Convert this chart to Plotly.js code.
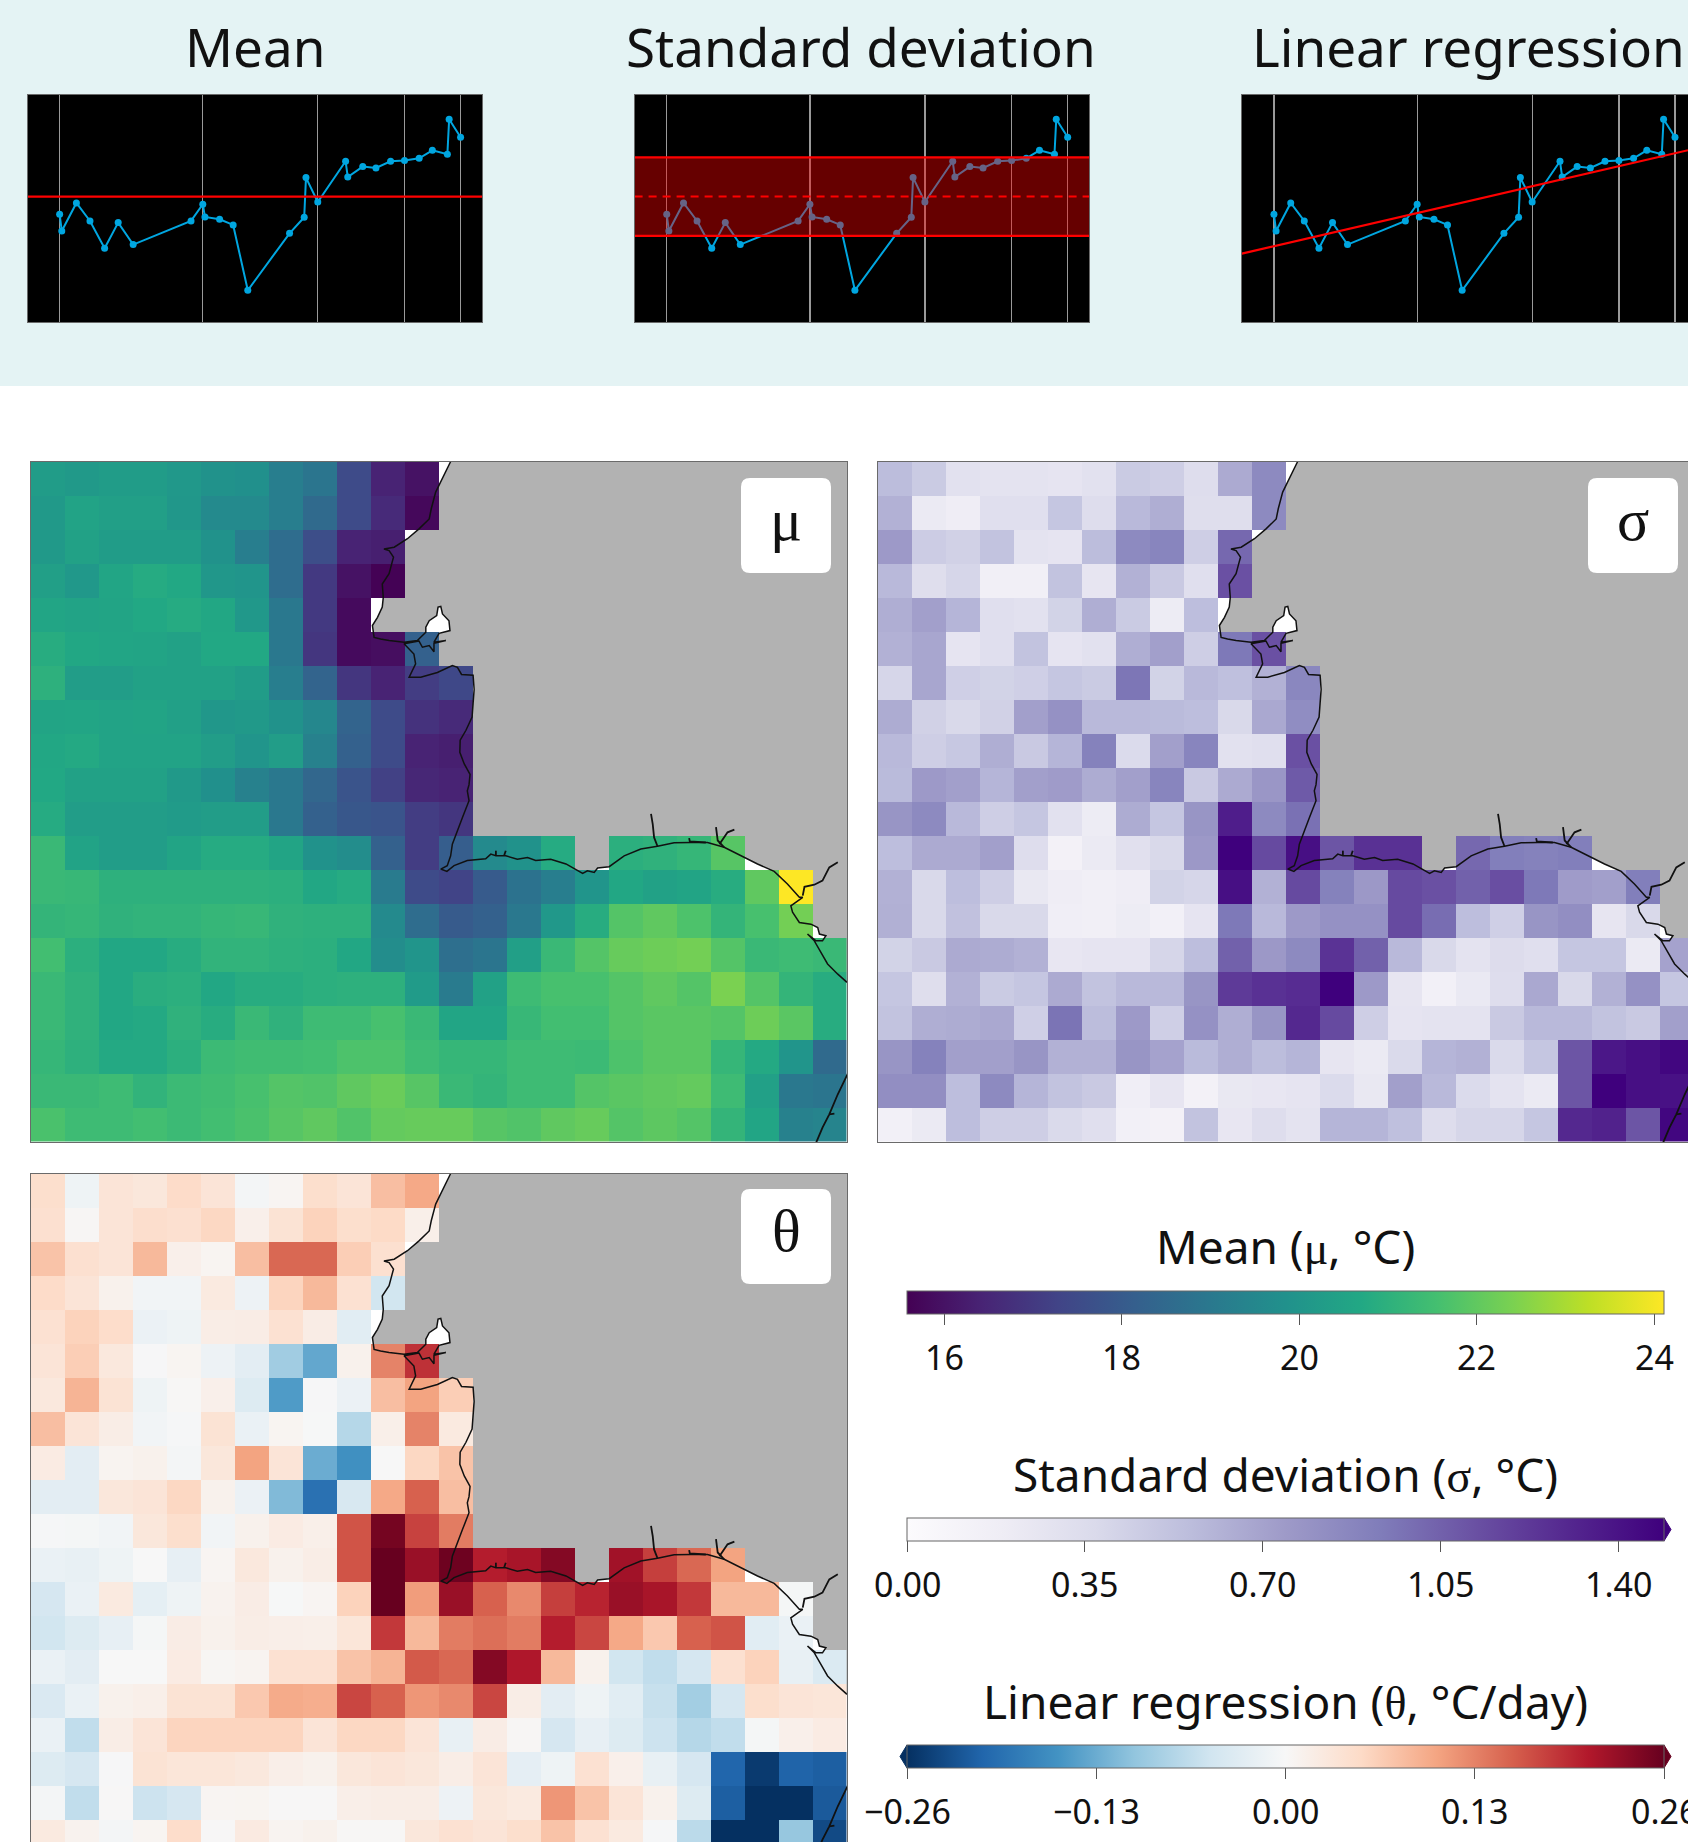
<!DOCTYPE html>
<html>
<head>
<meta charset="utf-8">
<script src="https://cdn.plot.ly/plotly-3.0.1.min.js"></script>
<style>html,body{margin:0;padding:0;background:#fff;overflow:hidden}</style>
</head>
<body>
<div id="chart" style="width:1688px;height:1842px"></div>
<script>
const n = null;
/* time series shown in the three top panels */
const seriesX = [0,6,47,85,126,164,206,368,401,407,448,486,527,644,685,690,723,801,807,849,886,927,966,1007,1044,1086,1091,1123];
const seriesY = [324,274,358,304,222,299,233,304,354,316,309,292,96,267,315,434,361,483,436,467,463,483,485,492,516,504,609,555];
const gridX = [0,401,723,966,1123];
const meanLevel = 377;
const stdLow = 259;
const stdHigh = 495;
const regressionEnds = [206,522];

/* gridded fields (rows north to south, columns west to east) */
const muValues = [
[20.25,20.15,20.25,20.25,20.1,19.9,19.8,19.2,18.9,17.5,16.4,16.0],
[20.15,20.5,20.35,20.35,20.05,19.6,19.6,19.2,18.5,17.5,16.6,15.75],
[20.15,20.45,20.25,20.25,20.25,19.9,19.2,18.6,17.6,16.4,16.3],
[20.35,20.1,20.6,20.8,20.7,20.05,20.0,18.6,17.0,16.0,15.6],
[20.6,20.5,20.55,20.7,20.8,20.65,20.1,19.0,17.0,15.8],
[20.85,20.65,20.6,20.55,20.45,20.7,20.7,19.0,16.9,15.8,15.9,18.2],
[21.0,20.3,20.3,20.45,20.45,20.45,20.25,19.2,18.3,16.9,16.4,17.1,17.4],
[20.55,20.6,20.5,20.55,20.4,20.05,20.15,19.9,19.5,18.3,17.5,16.8,16.6],
[20.65,20.75,20.5,20.5,20.5,20.3,20.0,20.3,19.3,18.2,17.5,16.4,16.3],
[20.7,20.45,20.45,20.45,20.15,19.8,19.3,19.0,18.4,17.8,17.2,16.5,16.4],
[20.8,20.3,20.3,20.3,20.2,20.3,20.3,19.0,18.2,17.9,17.8,17.1,16.9],
[21.3,20.5,20.3,20.3,20.55,20.8,20.8,20.55,19.9,19.7,18.2,17.1,18.1,19.6,19.9,20.8,n,20.95,21.05,21.2,21.85],
[21.3,21.25,21.0,21.0,21.0,21.0,21.0,20.95,20.65,20.8,19.1,17.5,17.3,18.0,18.8,19.2,20.0,20.65,20.45,20.55,20.85,22.0,24.11],
[21.15,21.2,21.05,21.1,21.1,21.2,21.25,21.05,21.0,21.0,19.6,18.6,18.0,18.2,19.0,20.1,20.85,21.8,22.0,21.7,21.15,21.6,22.3],
[21.5,20.95,20.65,20.65,20.85,21.1,21.1,21.0,20.95,20.65,19.7,20.0,18.7,18.9,20.35,21.3,21.8,22.1,22.2,22.3,21.8,21.3,21.4,21.3],
[21.3,21.05,20.65,20.9,20.95,20.65,20.85,20.85,20.95,21.0,21.0,20.2,19.1,20.45,21.4,21.6,21.6,21.8,22.0,21.8,22.4,21.8,21.15,20.85],
[21.3,21.05,20.65,20.75,21.05,20.85,21.3,21.05,21.4,21.4,21.6,21.3,20.6,20.6,21.25,21.5,21.5,21.8,21.9,21.9,21.8,22.2,21.9,20.85],
[21.2,21.0,20.75,20.75,20.95,21.35,21.45,21.45,21.5,21.7,21.7,21.4,21.2,21.2,21.4,21.4,21.35,21.7,21.9,21.9,21.2,20.75,20.0,18.5],
[21.3,21.3,21.4,21.1,21.35,21.45,21.6,21.8,21.75,22.0,22.15,21.85,21.3,21.15,21.4,21.4,21.8,21.9,22.0,22.05,21.4,20.4,19.0,18.9],
[21.65,21.4,21.4,21.5,21.35,21.5,21.65,21.85,22.0,21.75,22.05,22.1,22.1,21.85,21.75,22.0,22.1,21.8,21.95,21.8,21.15,20.6,19.3,19.4]
];
const sigmaValues = [
[.56,.47,.30,.28,.28,.27,.30,.47,.45,.34,.66,.85],
[.62,.22,.18,.32,.32,.50,.34,.58,.64,.33,.33,.85],
[.75,.46,.43,.52,.28,.27,.56,.85,.88,.45,1.02],
[.58,.33,.40,.16,.16,.52,.26,.62,.48,.32,1.12],
[.64,.72,.60,.32,.30,.42,.64,.47,.20,.55],
[.62,.68,.27,.32,.52,.27,.30,.64,.72,.45,.95,1.12],
[.40,.68,.44,.42,.44,.50,.47,.96,.42,.58,.54,.62,.87],
[.65,.43,.38,.43,.72,.80,.58,.58,.57,.55,.38,.67,.83],
[.58,.45,.49,.64,.48,.60,.90,.36,.72,.88,.30,.32,1.12],
[.57,.75,.72,.60,.72,.74,.65,.72,.88,.48,.66,.77,1.08],
[.78,.85,.58,.45,.50,.30,.20,.65,.50,.78,1.35,.85,.98],
[.55,.66,.66,.72,.34,.13,.22,.31,.38,.76,1.49,1.15,1.42,1.10,1.26,1.26,n,1.02,.92,.90,.92],
[.62,.38,.55,.45,.24,.18,.16,.19,.42,.40,1.42,.62,1.15,.90,.76,1.15,1.12,1.05,1.13,.95,.74,.72,.92],
[.63,.38,.53,.38,.38,.17,.16,.20,.14,.27,.95,.58,.75,.80,.80,1.15,1.00,.55,.44,.78,.82,.26,.38],
[.42,.48,.66,.65,.62,.25,.27,.27,.40,.55,1.05,.76,.85,1.25,1.05,.58,.38,.28,.35,.32,.50,.50,.22,.70],
[.50,.33,.62,.47,.50,.66,.52,.58,.58,.78,1.22,1.26,1.28,1.49,.75,.26,.15,.23,.34,.67,.38,.62,.80,.50],
[.52,.64,.65,.67,.44,.97,.56,.75,.44,.80,.64,.78,1.30,1.15,.45,.27,.28,.28,.48,.58,.58,.52,.48,.72],
[.78,.90,.72,.72,.78,.62,.62,.78,.70,.57,.64,.56,.60,.26,.22,.37,.60,.62,.37,.50,1.10,1.38,1.42,1.46],
[.82,.82,.55,.85,.60,.52,.48,.17,.26,.13,.24,.25,.27,.36,.24,.72,.58,.36,.28,.22,1.10,1.49,1.42,1.41],
[.14,.22,.55,.45,.45,.37,.32,.15,.13,.52,.25,.34,.28,.60,.60,.54,.34,.40,.40,.50,1.30,1.33,1.10,1.46]
];
const thetaValues = [
[.045,-.012,.035,.030,.050,.035,-.006,.005,.045,.035,.08,.10],
[.042,.003,.035,.046,.042,.055,.014,.038,.06,.045,.052,.015],
[.075,.042,.035,.085,.014,.006,.08,.15,.15,.065,.042],
[.05,.035,.012,-.008,-.008,.025,-.014,.058,.085,.04,-.05],
[.04,.06,.048,-.016,-.012,.018,.02,.04,.02,-.03],
[.035,.065,.028,-.002,.006,-.014,-.028,-.092,-.135,.012,.13,.19],
[.028,.09,.038,-.012,.002,.014,-.035,-.148,-.002,-.016,.08,.105,.065],
[.08,.035,.018,-.008,-.003,.038,-.018,.006,-.001,-.075,.015,.13,.025],
[.022,-.028,.008,.012,-.006,.03,.105,.035,-.13,-.16,.0005,.055,.075],
[-.028,-.028,.03,.035,.055,.012,-.016,-.115,-.195,-.042,.10,.155,.08],
[-.003,-.004,-.008,.03,.045,-.008,.012,.022,.015,.165,.25,.178,.135],
[-.018,-.02,-.012,0,-.022,.005,.028,.012,.018,.165,.26,.225,.255,.205,.215,.24,n,.22,.18,.15,.105],
[-.045,-.018,.025,-.024,-.012,.01,.02,-.001,.005,.06,.26,.11,.225,.155,.125,.18,.20,.225,.215,.185,.085,.085,-.004],
[-.05,-.035,-.022,-.004,.02,.012,.018,.016,.015,.032,.185,.085,.135,.145,.135,.205,.175,.10,.07,.155,.165,-.03,-.018],
[-.018,-.028,0,0,.022,.004,.008,.04,.04,.075,.09,.16,.15,.24,.21,.085,.012,-.05,-.065,-.045,.042,.06,-.02,-.038],
[-.04,-.018,.012,.015,.038,.038,.07,.098,.095,.175,.155,.115,.125,.175,.018,-.028,-.012,-.03,-.06,-.09,-.045,.045,.035,.032],
[-.018,-.065,.018,.035,.058,.058,.058,.058,.035,.055,.055,.035,-.02,.02,.003,-.045,-.022,-.035,-.055,-.075,-.065,-.004,.014,.022],
[-.035,-.045,-.002,.038,.032,.032,.028,.016,.012,.03,.035,.03,.018,.035,-.025,-.012,.04,.014,-.02,-.045,-.208,-.25,-.21,-.215],
[-.006,-.065,.001,-.055,-.045,.005,.006,.001,.001,.016,.018,.018,-.014,.03,.025,.115,.075,.035,.012,-.035,-.215,-.26,-.26,-.22],
[.025,.01,-.006,.006,.048,.001,.024,.008,.012,.002,.002,.03,.04,.035,.045,.075,.04,.025,-.003,-.07,-.26,-.26,-.10,-.235]
];

/* coastline in grid-cell coordinates */
const coastLon = [12.35,12.11,11.91,11.78,11.72,11.42,11.08,10.69,10.39,10.54,10.67,10.54,10.34,10.37,10.34,10.20,10.05,10.10,10.29,10.54,10.98,11.37,11.62,11.62,11.72,11.94,11.98,12.06,12.11,12.30,12.33,12.01,11.86,12.21,11.86,11.86,11.72,11.52,11.42,10.98,11.27,11.32,11.13,11.47,11.96,12.40,12.55,12.67,13.01,13.04,12.98,12.80,12.63,12.62,12.75,12.92,12.89,12.84,12.89,12.70,12.55,12.40,12.35,12.25,12.06,12.24,12.45,12.84,13.38,13.53,13.68,13.97,14.31,14.61,14.85,15.29,15.74,16.08,16.23,16.37,16.57,16.67,17.01,17.45,17.94,18.43,18.92,19.41,19.90,20.39,20.88,21.37,21.86,22.25,22.60,22.70,22.35,22.40,22.60,22.94,23.14,23.19,23.38,23.28,23.09,22.84,23.04,23.24,23.43,23.73,24.0];
const coastLat = [0,.51,.90,1.39,1.69,1.98,2.27,2.52,2.57,2.62,2.81,3.30,3.60,3.99,4.28,4.58,4.82,5.17,5.22,5.26,5.31,5.26,5.02,4.87,4.68,4.53,4.28,4.26,4.48,4.68,4.97,5.05,5.31,5.26,5.34,5.59,5.41,5.46,5.28,5.36,5.66,5.95,6.34,6.34,6.20,6.00,6.05,6.26,6.28,6.70,7.51,7.90,8.19,8.55,8.89,9.20,9.50,9.68,9.97,10.46,10.85,11.25,11.59,11.88,11.98,12.05,11.88,11.73,11.68,11.54,11.59,11.59,11.69,11.64,11.73,11.69,11.83,12.03,12.11,12.03,12.08,11.95,11.91,11.59,11.39,11.31,11.21,11.20,11.20,11.34,11.59,11.83,12.05,12.42,12.81,12.81,13.06,13.25,13.55,13.60,13.70,13.89,13.94,14.09,14.09,13.89,14.09,14.43,14.77,15.07,15.31];
const riverLon = [18.24,18.29,18.33,18.43,n,20.15,20.2,20.39,n,20.69,20.49,20.25,n,23.73,23.48,23.28,23.04,22.75,22.7,n,19.36,19.38,19.85,n,13.68,13.68,n,13.97,13.92,n,24.04,23.73,23.48,23.28,23.09,n,23.48,23.63];
const riverLat = [10.36,10.66,11.05,11.31,n,10.75,11.14,11.34,n,10.82,10.90,11.25,n,11.78,11.93,12.32,12.44,12.50,12.76,n,11.07,11.17,11.20,n,11.44,11.59,n,11.44,11.59,n,17.96,18.6,19.19,19.58,20.03,n,19.19,19.17];

/* colour scales and colour bar ticks */
const viridisStops = ['#440154','#482475','#414487','#355f8d','#2a788e','#21918c','#22a884','#44bf70','#7ad151','#bddf26','#fde725'];
const purplesStops = ['#fcfbfd','#efedf5','#dadaeb','#bcbddc','#9e9ac8','#807dba','#6a51a3','#54278f','#3f007d'];
const rdbuStops = ['#053061','#2166ac','#4393c3','#92c5de','#d1e5f0','#f7f7f7','#fddbc7','#f4a582','#d6604d','#b2182b','#67001f'];
const muTicks = [16,18,20,22,24];
const muTickText = ['16','18','20','22','24'];
const sigmaTicks = [0,.35,.70,1.05,1.40];
const sigmaTickText = ['0.00','0.35','0.70','1.05','1.40'];
const thetaTicks = [-.26,-.13,0,.13,.26];
const thetaTickText = ['\u22120.26','\u22120.13','0.00','0.13','0.26'];

const W = 1688, H = 1842;
const FONT = '"Noto Sans", sans-serif';
const GREEK = '"Liberation Serif", serif';
const fx = v => v / W;
const fy = v => 1 - v / H;
const toScale = s => s.map((c, i) => [i / (s.length - 1), c]);
const padRows = m => m.map(r => r.concat(new Array(24 - r.length).fill(null)));

const layout = {
  width: W, height: H,
  margin: {l:0, r:0, t:0, b:0, autoexpand:false},
  paper_bgcolor: '#ffffff',
  plot_bgcolor: '#ffffff',
  showlegend: false,
  font: {family: FONT, color:'#111111'},
  shapes: [], annotations: []
};
const traces = [];

/* background band */
layout.shapes.push({type:'rect', xref:'paper', yref:'paper', x0:0, x1:1, y0:fy(386), y1:1, fillcolor:'#e4f3f4', line:{width:0}, layer:'below'});

function baseAxis(extra){
  return Object.assign({showgrid:false, zeroline:false, ticks:'', showticklabels:false,
    showline:true, linecolor:'#6a6a6a', linewidth:1, fixedrange:true}, extra);
}

/* top panels */
const topBoxes = [
  {id:'', l:27.5, r:482, xEnd:1183, frame:true},
  {id:'2', l:634.6, r:1089.1, xEnd:1183, frame:true},
  {id:'3', l:1241.8, r:1688, xEnd:1159.4, frame:false}
];
const XSTART = -90;
topBoxes.forEach((b) => {
  layout['xaxis'+b.id] = baseAxis({domain:[fx(b.l),fx(b.r)], range:[XSTART,b.xEnd], anchor:'y'+b.id, mirror:true,
    showgrid:true, gridcolor:'#9a9a9a', gridwidth:1.3, tickmode:'array', tickvals:gridX});
  layout['yaxis'+b.id] = baseAxis({domain:[fy(322.3),fy(94.6)], range:[0,683], anchor:'x'+b.id, mirror:b.frame});
  layout.shapes.push({type:'rect', xref:'x'+b.id+' domain', yref:'y'+b.id+' domain', x0:0, x1:1, y0:0, y1:1, fillcolor:'#000000', line:{width:0}, layer:'below'});
  const ax = {xaxis:'x'+b.id, yaxis:'y'+b.id, hoverinfo:'skip'};
  traces.push(Object.assign({type:'scatter', mode:'lines+markers', x:seriesX, y:seriesY,
    line:{color:'#00a6e0', width:2}, marker:{color:'#00a6e0', size:7}}, ax));
  if (b.id === '') {
    traces.push(Object.assign({type:'scatter', mode:'lines', x:[XSTART,b.xEnd], y:[meanLevel,meanLevel], line:{color:'#ff0000', width:2.2}}, ax));
  } else if (b.id === '2') {
    traces.push(Object.assign({type:'scatter', mode:'none', fill:'toself', fillcolor:'rgba(255,0,0,0.4)',
      x:[XSTART,b.xEnd,b.xEnd,XSTART,XSTART], y:[stdHigh,stdHigh,stdLow,stdLow,stdHigh]}, ax));
    traces.push(Object.assign({type:'scatter', mode:'lines', x:[XSTART,b.xEnd], y:[stdHigh,stdHigh], line:{color:'#ff0000', width:2.2}}, ax));
    traces.push(Object.assign({type:'scatter', mode:'lines', x:[XSTART,b.xEnd], y:[stdLow,stdLow], line:{color:'#ff0000', width:2.2}}, ax));
    traces.push(Object.assign({type:'scatter', mode:'lines', x:[XSTART,b.xEnd], y:[meanLevel,meanLevel], line:{color:'#ff0000', width:2, dash:'8px,6px'}}, ax));
  } else {
    const slope = (regressionEnds[1]-regressionEnds[0])/(1183-XSTART);
    traces.push(Object.assign({type:'scatter', mode:'lines', x:[XSTART,b.xEnd], y:[regressionEnds[0], regressionEnds[0]+slope*(b.xEnd-XSTART)], line:{color:'#ff0000', width:2.2}}, ax));
  }
});
[['Mean',254.5],['Standard deviation',861],['Linear regression',1468]].forEach(t => {
  layout.annotations.push({text:t[0], xref:'paper', yref:'paper', x:fx(t[1]), y:fy(46), xanchor:'center', yanchor:'middle', showarrow:false, font:{family:FONT, size:53, color:'#111111'}});
});

/* land outline as a below-layer path */
function landPath(){
  let p = '';
  coastLon.forEach((x,i) => { p += (i ? 'L' : 'M') + x + ',' + coastLat[i]; });
  return p + 'L24.5,' + coastLat[coastLat.length-1] + 'L24.5,-0.5L' + coastLon[0] + ',-0.5Z';
}

/* maps */
const CELL = 34.02;
const BAR_LEFT = 907, BAR_LEN = 757;
const maps = [
  {id:'4', l:30.5, t:461.5, z:muValues, stops:viridisStops, zmin:15.58, zmax:24.11, cbY:1291, ticks:muTicks, text:muTickText,
    box:[741,478,831,573], sym:'\u03bc'},
  {id:'5', l:877.5, t:461.5, z:sigmaValues, stops:purplesStops, zmin:0, zmax:1.49, cbY:1518, ticks:sigmaTicks, text:sigmaTickText,
    box:[1588,478,1678,573], sym:'\u03c3'},
  {id:'6', l:30.5, t:1173.5, z:thetaValues, stops:rdbuStops, zmin:-.26, zmax:.26, cbY:1745, ticks:thetaTicks, text:thetaTickText,
    box:[741,1189,831,1284], sym:'\u03b8'}
];
maps.forEach(m => {
  const r = Math.min(m.l + 24*CELL, W), b = Math.min(m.t + 20*CELL, H);
  const xEnd = (r - m.l)/CELL, yEnd = (b - m.t)/CELL;
  const rightClipped = m.l + 24*CELL > W, bottomClipped = m.t + 20*CELL > H;
  layout['xaxis'+m.id] = baseAxis({domain:[fx(m.l),fx(r)], range:[0,xEnd], anchor:'y'+m.id, side:'top', mirror:!bottomClipped});
  layout['yaxis'+m.id] = baseAxis({domain:[fy(b),fy(m.t)], range:[yEnd,0], anchor:'x'+m.id, mirror:!rightClipped});
  layout.shapes.push({type:'path', xref:'x'+m.id, yref:'y'+m.id, path:landPath(), fillcolor:'#b2b2b2', line:{width:0}, layer:'below'});
  traces.push({type:'heatmap', xaxis:'x'+m.id, yaxis:'y'+m.id, z:padRows(m.z), x0:0.5, dx:1, y0:0.5, dy:1,
    colorscale:toScale(m.stops), zmin:m.zmin, zmax:m.zmax, hoverinfo:'skip', zsmooth:false,
    colorbar:{orientation:'h', xref:'container', yref:'container', x:fx(BAR_LEFT+BAR_LEN/2), xanchor:'center', y:fy(m.cbY), yanchor:'top',
      len:BAR_LEN, lenmode:'pixels', thickness:23, thicknessmode:'pixels', xpad:0, ypad:0,
      outlinecolor:'#666666', outlinewidth:1, borderwidth:0,
      tickmode:'array', tickvals:m.ticks, ticktext:m.text, ticks:'outside', ticklen:11, tickwidth:1, tickcolor:'#555555',
      showticklabels:false}});
  /* colour bar tick labels placed from the same value scale as the bar */
  m.ticks.forEach((v,i) => {
    layout.annotations.push({text:m.text[i], xref:'paper', yref:'paper',
      x:fx(BAR_LEFT + (v-m.zmin)/(m.zmax-m.zmin)*BAR_LEN), y:fy(m.cbY+66),
      xanchor:'center', yanchor:'middle', showarrow:false, font:{family:FONT, size:34, color:'#111111'}});
  });
  traces.push({type:'scatter', mode:'lines', x:coastLon, y:coastLat, xaxis:'x'+m.id, yaxis:'y'+m.id, hoverinfo:'skip', line:{color:'#111111', width:1.5}});
  traces.push({type:'scatter', mode:'lines', x:riverLon, y:riverLat, xaxis:'x'+m.id, yaxis:'y'+m.id, hoverinfo:'skip', line:{color:'#111111', width:1.8}});
  const B = m.box, rad = 9;
  const rx = rad/W, ry = rad/H;
  const L = fx(B[0]), R = fx(B[2]), T = fy(B[1]), Bo = fy(B[3]);
  layout.shapes.push({type:'path', xref:'paper', yref:'paper', fillcolor:'#ffffff', line:{width:0}, layer:'above',
    path:`M${L+rx},${T}L${R-rx},${T}Q${R},${T} ${R},${T-ry}L${R},${Bo+ry}Q${R},${Bo} ${R-rx},${Bo}L${L+rx},${Bo}Q${L},${Bo} ${L},${Bo+ry}L${L},${T-ry}Q${L},${T} ${L+rx},${T}Z`});
  layout.annotations.push({text:m.sym, xref:'paper', yref:'paper', x:fx((B[0]+B[2])/2), y:fy((B[1]+B[3])/2-6), xanchor:'center', yanchor:'middle', showarrow:false, font:{family:GREEK, size:60, color:'#111111'}});
});

/* colour bar titles and end arrows */
const gr = s => '<span style="font-family:\'Liberation Serif\',serif">' + s + '</span>';
[['Mean (' + gr('\u03bc') + ', \u00b0C)',1246],['Standard deviation (' + gr('\u03c3') + ', \u00b0C)',1474],['Linear regression (' + gr('\u03b8') + ', \u00b0C/day)',1701]].forEach(t => {
  layout.annotations.push({text:t[0], xref:'paper', yref:'paper', x:fx(1285.5), y:fy(t[1]), xanchor:'center', yanchor:'middle', showarrow:false, font:{family:FONT, size:46, color:'#111111'}});
});
function arrow(x0, tip, yt, yb, col){
  layout.shapes.push({type:'path', xref:'paper', yref:'paper', layer:'above', fillcolor:col, line:{color:col, width:1},
    path:`M${fx(x0)},${fy(yt)}L${fx(tip)},${fy((yt+yb)/2)}L${fx(x0)},${fy(yb)}Z`});
}
arrow(1664,1671,1518,1541,purplesStops[purplesStops.length-1]);
arrow(907,900,1745,1768,rdbuStops[0]);
arrow(1664,1671,1745,1768,rdbuStops[rdbuStops.length-1]);

Plotly.newPlot('chart', traces, layout, {displayModeBar:false, staticPlot:true});
</script>
</body>
</html>
